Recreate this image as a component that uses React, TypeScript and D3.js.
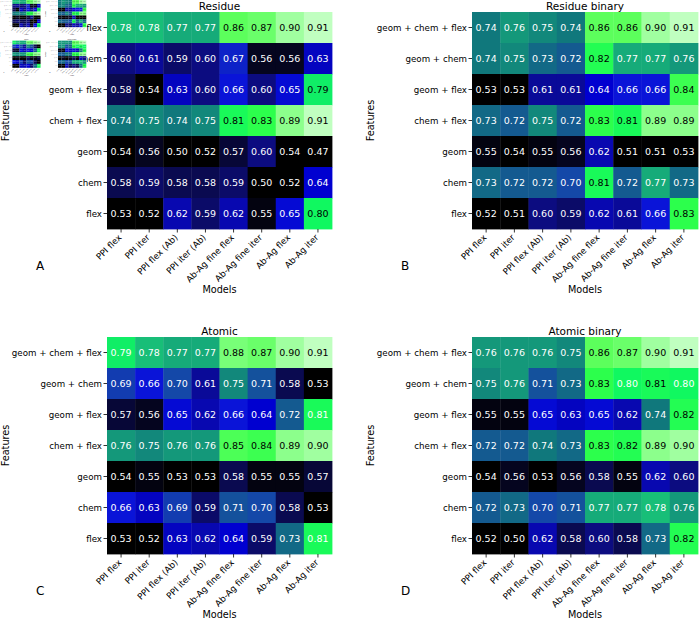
import React from 'react';
import * as d3 from 'd3';

const W = 700;
const H = 620;

const features = ['geom + chem + flex', 'geom + chem', 'geom + flex', 'chem + flex', 'geom', 'chem', 'flex'];
const models = ['PPI flex', 'PPI iter', 'PPI flex (Ab)', 'PPI iter (Ab)', 'Ab-Ag fine flex', 'Ab-Ag fine iter', 'Ab-Ag flex', 'Ab-Ag iter'];

// Residue
const residue = [
  [0.78, 0.78, 0.77, 0.77, 0.86, 0.87, 0.90, 0.91],
  [0.60, 0.61, 0.59, 0.60, 0.67, 0.56, 0.56, 0.63],
  [0.58, 0.54, 0.63, 0.60, 0.66, 0.60, 0.65, 0.79],
  [0.74, 0.75, 0.74, 0.75, 0.81, 0.83, 0.89, 0.91],
  [0.54, 0.56, 0.50, 0.52, 0.57, 0.60, 0.54, 0.47],
  [0.58, 0.59, 0.58, 0.58, 0.59, 0.50, 0.52, 0.64],
  [0.53, 0.52, 0.62, 0.59, 0.62, 0.55, 0.65, 0.80],
];
// Residue binary
const residueBinary = [
  [0.74, 0.76, 0.75, 0.74, 0.86, 0.86, 0.90, 0.91],
  [0.74, 0.75, 0.73, 0.72, 0.82, 0.77, 0.77, 0.76],
  [0.53, 0.53, 0.61, 0.61, 0.64, 0.66, 0.66, 0.84],
  [0.73, 0.72, 0.75, 0.72, 0.83, 0.81, 0.89, 0.89],
  [0.55, 0.54, 0.55, 0.56, 0.62, 0.51, 0.51, 0.53],
  [0.73, 0.72, 0.72, 0.70, 0.81, 0.72, 0.77, 0.73],
  [0.52, 0.51, 0.60, 0.59, 0.62, 0.61, 0.66, 0.83],
];
// Atomic
const atomic = [
  [0.79, 0.78, 0.77, 0.77, 0.88, 0.87, 0.90, 0.91],
  [0.69, 0.66, 0.70, 0.61, 0.75, 0.71, 0.58, 0.53],
  [0.57, 0.56, 0.65, 0.62, 0.66, 0.64, 0.72, 0.81],
  [0.76, 0.75, 0.76, 0.76, 0.85, 0.84, 0.89, 0.90],
  [0.54, 0.55, 0.53, 0.53, 0.58, 0.55, 0.55, 0.57],
  [0.66, 0.63, 0.69, 0.59, 0.71, 0.70, 0.58, 0.53],
  [0.53, 0.52, 0.63, 0.62, 0.64, 0.59, 0.73, 0.81],
];
// Atomic binary
const atomicBinary = [
  [0.76, 0.76, 0.76, 0.75, 0.86, 0.87, 0.90, 0.91],
  [0.75, 0.76, 0.71, 0.73, 0.83, 0.80, 0.81, 0.80],
  [0.55, 0.55, 0.65, 0.63, 0.65, 0.62, 0.74, 0.82],
  [0.72, 0.72, 0.74, 0.73, 0.83, 0.82, 0.89, 0.90],
  [0.54, 0.56, 0.53, 0.56, 0.58, 0.55, 0.62, 0.60],
  [0.72, 0.73, 0.70, 0.71, 0.77, 0.77, 0.78, 0.76],
  [0.52, 0.50, 0.62, 0.58, 0.60, 0.58, 0.73, 0.82],
];

const titles = ['Residue', 'Residue binary', 'Atomic', 'Atomic binary'];
const letters = ['A', 'B', 'C', 'D'];
// values at or above this get black annotation text
const darkTextFrom = [0.79, 0.80, 0.82, 0.81];

const stops = [0.47, 0.54, 0.56, 0.58, 0.60, 0.62, 0.64, 0.66, 0.68, 0.70, 0.72, 0.74, 0.76, 0.78, 0.79, 0.80, 0.83, 0.86, 0.88, 0.90, 0.91];
const stopColors = ['#000000', '#000000', '#05051f', '#0a0a50', '#0c0c80', '#0808b0', '#0000d0', '#0a14d8', '#1030b8', '#1448a8', '#145a90', '#10787c', '#14987a', '#18be78', '#10ee66', '#10f860', '#2cff4c', '#5cff5c', '#78ff78', '#a0ffa0', '#c0ffc0'];

const color = d3.scaleLinear<string>().domain(stops).range(stopColors).interpolate(d3.interpolateRgb).clamp(true);

const font = 'DejaVu Sans, sans-serif';

const panels = [
  { data: residue, x0: 107, x1: 332, y0: 12, y1: 229 },
  { data: residueBinary, x0: 472, x1: 698, y0: 12, y1: 229 },
  { data: atomic, x0: 107, x1: 332, y0: 337, y1: 554 },
  { data: atomicBinary, x0: 472, x1: 698, y0: 337, y1: 554 },
];

function Heatmap({ idx }: { idx: number }) {
  const p = panels[idx];
  const x = d3.scaleBand().domain(models).range([p.x0, p.x1]);
  const y = d3.scaleBand().domain(features).range([p.y0, p.y1]);
  const cx = (p.x0 + p.x1) / 2;
  const cy = (p.y0 + p.y1) / 2;
  return (
    <g>
      <text x={cx} y={p.y0 - 2} textAnchor="middle" fontSize={10.5}>{titles[idx]}</text>
      {p.data.map((row, r) =>
        row.map((v, c) => (
          <g key={`${r}-${c}`}>
            <rect x={x(models[c])} y={y(features[r])} width={x.bandwidth() + 0.4} height={y.bandwidth() + 0.4} fill={color(v)} />
            <text
              x={(x(models[c]) as number) + x.bandwidth() / 2}
              y={(y(features[r]) as number) + y.bandwidth() / 2}
              dy="0.36em"
              textAnchor="middle"
              fontSize={9.5}
              fill={v >= darkTextFrom[idx] ? '#000' : '#fff'}
            >
              {v.toFixed(2)}
            </text>
          </g>
        ))
      )}
      {features.map((f) => {
        const yy = (y(f) as number) + y.bandwidth() / 2;
        return (
          <g key={f}>
            <line x1={p.x0 - 3.5} x2={p.x0} y1={yy} y2={yy} stroke="#000" strokeWidth={0.8} />
            <text x={p.x0 - 5} y={yy} dy="0.35em" textAnchor="end" fontSize={8.7}>{f}</text>
          </g>
        );
      })}
      {models.map((m) => {
        const xx = (x(m) as number) + x.bandwidth() / 2;
        return (
          <g key={m}>
            <line x1={xx} x2={xx} y1={p.y1} y2={p.y1 + 3.5} stroke="#000" strokeWidth={0.8} />
            <text transform={`translate(${xx + 1},${p.y1 + 9}) rotate(-45)`} textAnchor="end" fontSize={8.7}>{m}</text>
          </g>
        );
      })}
      <text x={cx} y={p.y1 + 64} textAnchor="middle" fontSize={9.7}>Models</text>
      <text transform={`translate(${p.x0 - 98},${cy}) rotate(-90)`} textAnchor="middle" fontSize={9.7}>Features</text>
      <text x={p.x0 - 71} y={p.y1 + 41} fontSize={12}>{letters[idx]}</text>
    </g>
  );
}

function Figure() {
  return (
    <g fontFamily={font}>
      {panels.map((_, i) => <Heatmap key={i} idx={i} />)}
    </g>
  );
}

export default function App() {
  return (
    <svg width={W} height={H} style={{ position: 'absolute', left: 0, top: 0, background: '#fff' }}>
      <rect width={W} height={H} fill="#fff" />
      <Figure />
      {/* stray thumbnail of the whole figure pasted over panel A's corner */}
      <g transform="translate(-1,-1.5) scale(0.125)">
        <rect width={W} height={H} fill="#fff" />
        <Figure />
      </g>
    </svg>
  );
}
